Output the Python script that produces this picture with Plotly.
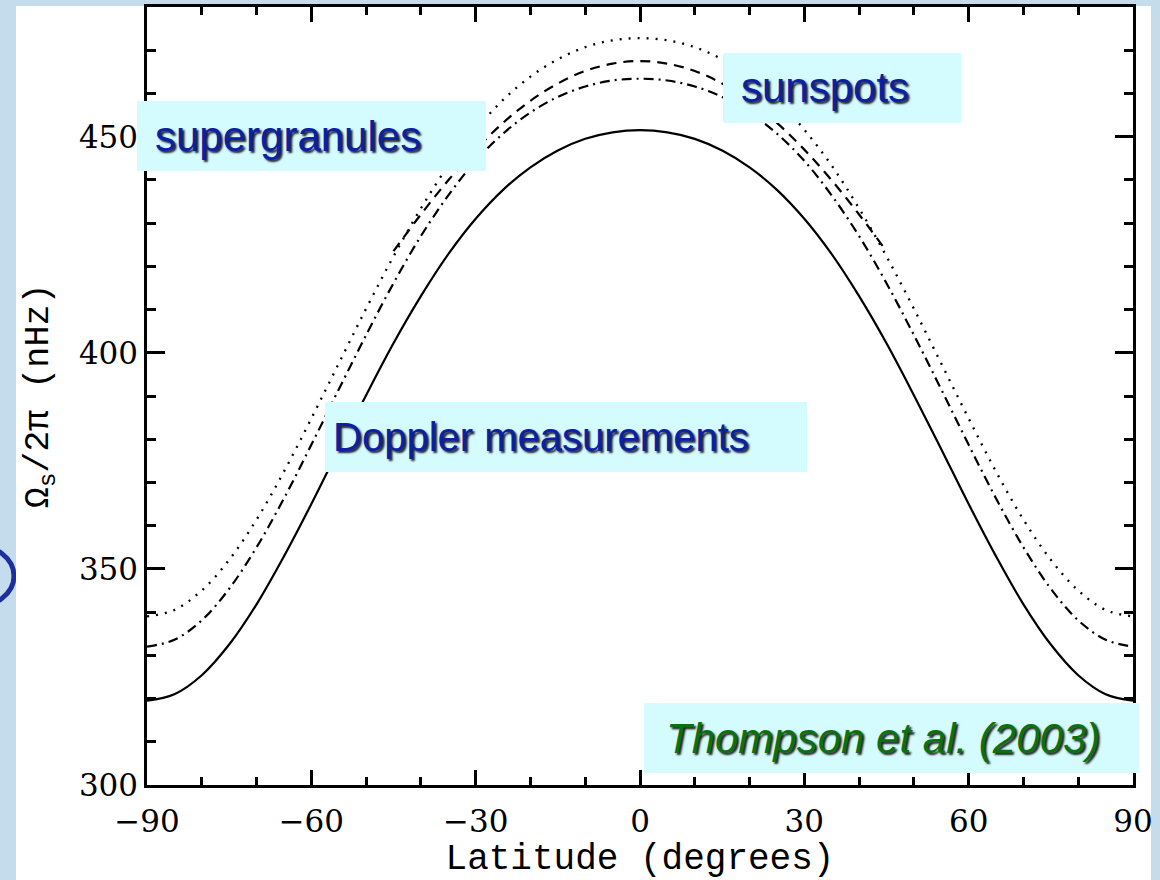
import plotly.graph_objects as go

# ---------------- data ----------------
latitude = [-90, -85, -80, -75, -70, -65, -60, -55, -50, -45, -40, -35, -30, -25, -20, -15, -10, -5,
            0, 5, 10, 15, 20, 25, 30, 35, 40, 45, 50, 55, 60, 65, 70, 75, 80, 85, 90]

doppler = [319.5, 321.0, 325.4, 332.5, 341.8, 352.9, 365.0, 377.7, 390.2, 402.2, 413.1, 422.8, 431.0,
           437.7, 442.9, 446.8, 449.5, 451.0, 451.5, 451.0, 449.5, 446.8, 442.9, 437.7, 431.0, 422.8,
           413.1, 402.2, 390.2, 377.7, 365.0, 352.9, 341.8, 332.5, 325.4, 321.0, 319.5]

supergranules = [339.0, 340.5, 345.0, 352.1, 361.4, 372.5, 384.8, 397.5, 410.2, 422.3, 433.4, 443.3,
                 451.6, 458.5, 463.9, 467.9, 470.7, 472.3, 472.8, 472.3, 470.7, 467.9, 463.9, 458.5,
                 451.6, 443.3, 433.4, 422.3, 410.2, 397.5, 384.8, 372.5, 361.4, 352.1, 345.0, 340.5, 339.0]

magnetic = [332.0, 333.6, 338.1, 345.4, 355.0, 366.3, 378.7, 391.5, 404.1, 416.1, 427.0, 436.4, 444.4,
            450.7, 455.6, 459.2, 461.6, 463.0, 463.4, 463.0, 461.6, 459.2, 455.6, 450.7, 444.4, 436.4,
            427.0, 416.1, 404.1, 391.5, 378.7, 366.3, 355.0, 345.4, 338.1, 333.6, 332.0]

latitude_spots = [-45, -40, -35, -30, -25, -20, -15, -10, -5, 0, 5, 10, 15, 20, 25, 30, 35, 40, 45]
sunspots = [423.5, 432.0, 439.9, 447.0, 453.2, 458.3, 462.3, 465.2, 466.9, 467.5, 466.9, 465.2, 462.3,
            458.3, 453.2, 447.0, 439.9, 432.0, 423.5]

x_ticks = [-90, -60, -30, 0, 30, 60, 90]
y_ticks = [300, 350, 400, 450]

# ---------------- layout constants ----------------
W, H = 1160, 880
L, R, T, B = 147, 27, 7, 95
PW, PH = W - L - R, H - T - B


def px(xp):
    return (xp - L) / PW


def py(yp):
    return (H - B - yp) / PH


SERIF = "DejaVu Serif, Liberation Serif, serif"
MONO = "Liberation Mono, Courier New, monospace"
SANS = "Liberation Sans, Arial, Helvetica, sans-serif"
BOX = "#d4fbfd"

fig = go.Figure()
fig.add_trace(go.Scatter(x=latitude, y=supergranules, mode="lines", name="supergranules",
                         line=dict(color="black", width=2.3, dash="2px,7px", shape="spline")))
fig.add_trace(go.Scatter(x=latitude_spots, y=sunspots, mode="lines", name="sunspots",
                         line=dict(color="black", width=2.2, dash="10px,7px", shape="spline")))
fig.add_trace(go.Scatter(x=latitude, y=magnetic, mode="lines", name="magnetic",
                         line=dict(color="black", width=2.2, dash="10px,5px,2px,5px", shape="spline")))
fig.add_trace(go.Scatter(x=latitude, y=doppler, mode="lines", name="Doppler",
                         line=dict(color="black", width=2.2, shape="spline")))

shapes = []
# slide element peeking at left edge
shapes.append(dict(type="circle", xref="paper", yref="paper", layer="below",
                   x0=px(-70), x1=px(14), y0=py(608), y1=py(544),
                   line=dict(color="#1b2f9e", width=5), fillcolor="rgba(0,0,0,0)"))
# white page
shapes.append(dict(type="rect", xref="paper", yref="paper", layer="below",
                   x0=px(16), x1=px(1151), y0=py(880), y1=py(6),
                   line=dict(width=0), fillcolor="white"))
# label boxes
for (x0, x1, y0, y1) in [(137, 486, 101, 171), (723, 961, 53, 123), (325, 807, 402, 472), (644, 1139, 703, 773)]:
    shapes.append(dict(type="rect", xref="paper", yref="paper", layer="above",
                       x0=px(x0), x1=px(x1), y0=py(y1), y1=py(y0),
                       line=dict(width=0), fillcolor=BOX))

annotations = []
blue = "#0c20a4"
for text, xl, yc, fs in [("supergranules", 153, 136, 42), ("sunspots", 739, 88, 42),
                         ("Doppler measurements", 331, 437, 40)]:
    annotations.append(dict(text=text, xref="paper", yref="paper", x=px(xl), y=py(yc),
                            xanchor="left", yanchor="middle", showarrow=False,
                            font=dict(family=SANS, size=fs, color=blue,
                                      shadow="2px 2px 2px #222233")))
annotations.append(dict(text="<i>Thompson et al. (2003)</i>", xref="paper", yref="paper",
                        x=px(664), y=py(738), xanchor="left", yanchor="middle", showarrow=False,
                        font=dict(family=SANS, size=42, color="#0b700f",
                                  shadow="2px 2px 2px #222222")))

axis_common = dict(showgrid=False, zeroline=False, showline=True, linecolor="black", linewidth=2.5,
                   mirror="ticks", ticks="inside", tickcolor="black", tickwidth=2.5,
                   tickfont=dict(family=SERIF, size=31, color="black"))

fig.update_layout(
    width=W, height=H,
    margin=dict(l=L, r=R, t=T, b=B, pad=0),
    paper_bgcolor="#c5dcec", plot_bgcolor="rgba(0,0,0,0)",
    showlegend=False,
    shapes=shapes, annotations=annotations,
    xaxis=dict(range=[-90, 90], tickvals=x_ticks, ticklen=15, ticklabelstandoff=7,
               minor=dict(dtick=10, ticklen=8, tickwidth=2.5, tickcolor="black", ticks="inside"),
               title=dict(text="Latitude (degrees)", standoff=10,
                          font=dict(family=MONO, size=36, color="black")),
               automargin=False, **axis_common),
    yaxis=dict(range=[300, 480], tickvals=y_ticks, ticklen=18,
               minor=dict(dtick=10, ticklen=9, tickwidth=2.5, tickcolor="black", ticks="inside"),
               title=dict(text="Ω<sub>s</sub>/2π (nHz)", standoff=20,
                          font=dict(family=MONO, size=35, color="black")),
               automargin=False, **axis_common),
)

fig.write_html("out.html")
